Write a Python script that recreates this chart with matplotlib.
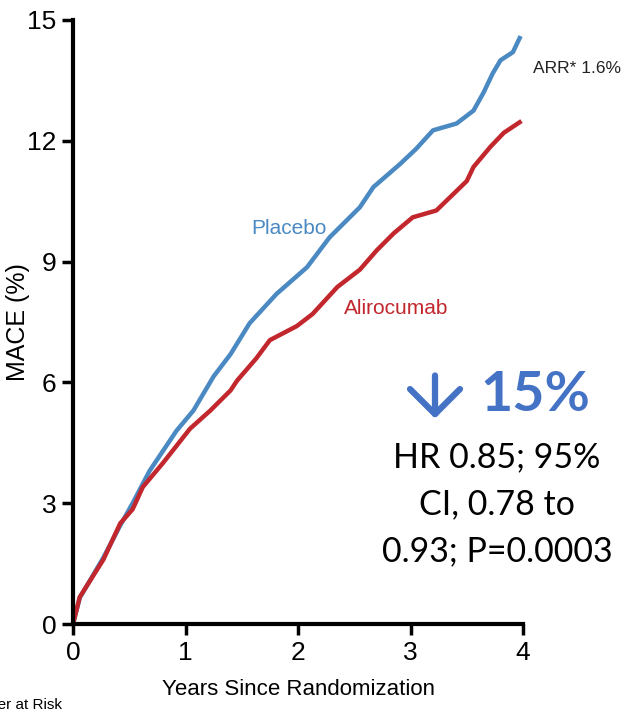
import matplotlib
matplotlib.use("Agg")
import matplotlib.pyplot as plt
from matplotlib.patches import FancyArrowPatch

# Cumulative MACE incidence (%) by years since randomization
placebo_years = [0, 0.06, 0.27, 0.42, 0.53, 0.68, 0.8, 0.92, 1.07, 1.25, 1.4, 1.57, 1.81,
                 2.08, 2.28, 2.37, 2.55, 2.67, 2.91, 3.05, 3.2, 3.41, 3.56, 3.65, 3.73,
                 3.8, 3.91, 3.97]
placebo_mace = [0, 0.65, 1.65, 2.45, 3.0, 3.8, 4.3, 4.8, 5.3, 6.15, 6.7, 7.47, 8.2,
                8.86, 9.6, 9.85, 10.35, 10.85, 11.43, 11.8, 12.26, 12.43, 12.75, 13.2, 13.67,
                14.0, 14.2, 14.55]

aliro_years = [0, 0.06, 0.27, 0.42, 0.53, 0.62, 0.8, 1.04, 1.22, 1.4, 1.46, 1.63, 1.75,
               1.99, 2.13, 2.35, 2.55, 2.7, 2.85, 3.02, 3.23, 3.5, 3.56, 3.71, 3.83, 3.97]
aliro_mace = [0, 0.67, 1.6, 2.5, 2.85, 3.4, 4.0, 4.85, 5.3, 5.8, 6.05, 6.6, 7.05,
              7.4, 7.7, 8.37, 8.8, 9.28, 9.7, 10.1, 10.27, 11.0, 11.35, 11.85, 12.2, 12.46]

x_ticks = [0, 1, 2, 3, 4]
y_ticks = [0, 3, 6, 9, 12, 15]

blue = "#4a89c2"
red = "#c1272d"
accent = "#4472c4"
sans = ["Liberation Sans", "DejaVu Sans"]

fig = plt.figure(figsize=(6.25, 7.14), dpi=100)
ax = fig.add_axes([0.1168, 0.126, 0.72, 0.846])

ax.plot(placebo_years, placebo_mace, color=blue, lw=3.2, solid_joinstyle="round")
ax.plot(aliro_years, aliro_mace, color=red, lw=3.2, solid_joinstyle="round")

ax.set_xlim(0, 4)
ax.set_ylim(0, 15)
ax.set_xticks(x_ticks)
ax.set_yticks(y_ticks)
for lab in ax.get_xticklabels() + ax.get_yticklabels():
    lab.set_family(sans)
    lab.set_fontsize(19)
ax.tick_params(direction="out", length=8, width=2.5, pad=4)

for side in ["top", "right"]:
    ax.spines[side].set_visible(False)
for side in ["left", "bottom"]:
    ax.spines[side].set_linewidth(3)

ax.set_ylabel("MACE (%)", fontsize=18, family=sans)
ax.yaxis.set_label_coords(-0.095, 0.5)
ax.set_xlabel("Years Since Randomization", fontsize=16, family=sans, labelpad=10)

ax.text(1.92, 9.83, "Placebo", color=blue, fontsize=15, family=sans, ha="center", va="center")
ax.text(2.87, 7.84, "Alirocumab", color=red, fontsize=15, family=sans, ha="center", va="center")
ax.text(4.09, 13.8, "ARR* 1.6%", color="#222222", fontsize=12.5, family=sans,
        ha="left", va="center", clip_on=False)

# downward arrow next to the relative reduction
arrow = FancyArrowPatch((0.696, 0.478), (0.696, 0.410), transform=fig.transFigure,
                        arrowstyle="->,head_length=0.9,head_width=0.9",
                        color=accent, lw=4.5, mutation_scale=20)
fig.patches.append(arrow)
fig.text(0.856, 0.447, "15%", color=accent, fontsize=40, fontweight="bold",
         family="Lato", ha="center", va="center")
stats = ["HR 0.85; 95%", "CI, 0.78 to", "0.93; P=0.0003"]
for i, line in enumerate(stats):
    fig.text(0.795, 0.359 - i * 0.0655, line, color="black", fontsize=24.5,
             family="Lato", ha="center", va="center")

fig.text(0.099, 0.012, "Number at Risk", fontsize=11, family=sans, ha="right", va="center")

fig.savefig("out.png", dpi=100)
